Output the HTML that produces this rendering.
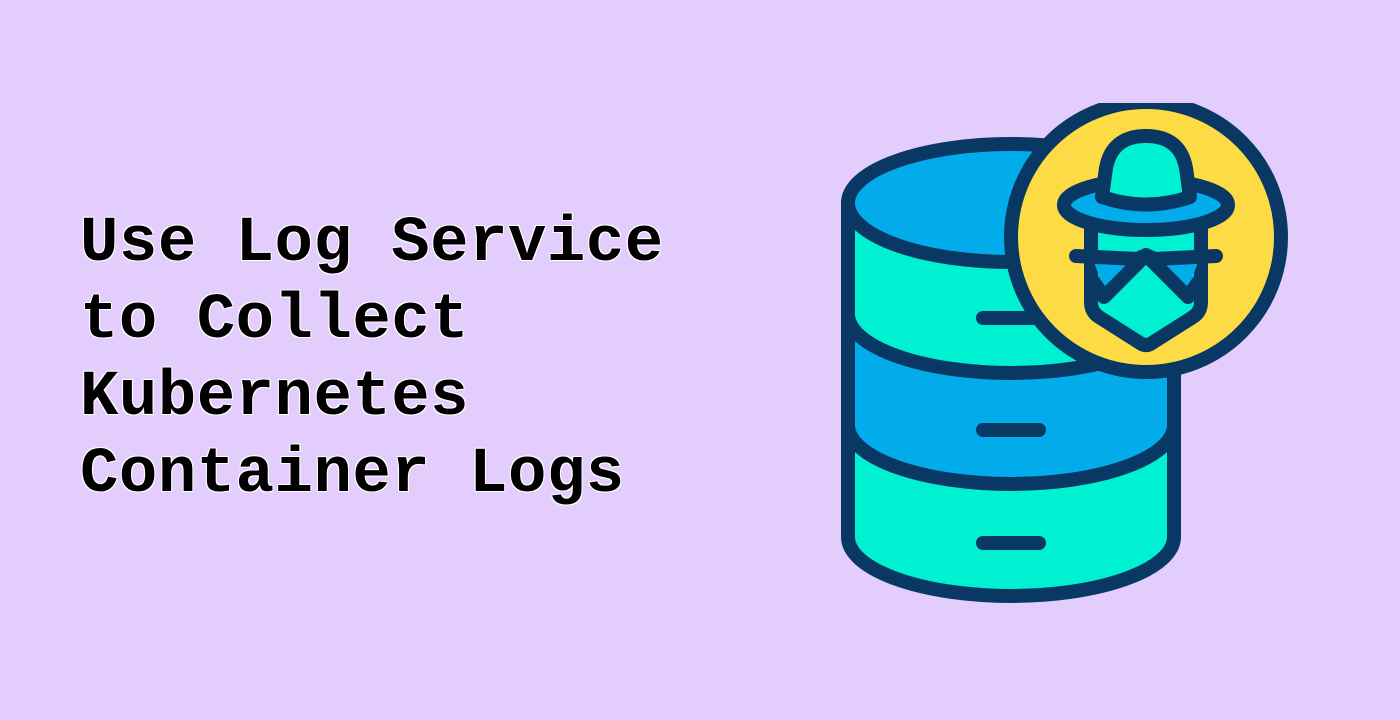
<!DOCTYPE html>
<html><head><style>
html,body{margin:0;padding:0;}
body{width:1400px;height:720px;background:#E2CDFD;position:relative;overflow:hidden;}
.t{position:absolute;left:80px;top:206px;font-family:"Liberation Mono",monospace;font-weight:bold;font-size:64px;line-height:77px;color:#000;text-shadow:1px 1px 0 #fff,-1px -1px 0 #fff,1px -1px 0 #fff,-1px 1px 0 #fff,0.6px 0 0 #000;letter-spacing:0.5px;}
svg{position:absolute;left:0;top:0;}
</style></head><body>
<div class="t">Use Log Service<br>to Collect<br>Kubernetes<br>Container Logs</div>
<svg width="1400" height="720" viewBox="0 0 1400 720">
<defs><clipPath id="c"><rect x="0" y="103" width="1400" height="620"/></clipPath></defs>
<g stroke="#0A3864" stroke-width="14" stroke-linejoin="round" stroke-linecap="round" clip-path="url(#c)">
 <path d="M848 425 L848 537 A163 59 0 0 0 1174 537 L1174 425 Z" fill="#00F0D2"/>
 <path d="M848 314 L848 425 A163 59 0 0 0 1174 425 L1174 314 Z" fill="#02ABE9"/>
 <path d="M848 203 L848 314 A163 59 0 0 0 1174 314 L1174 203 Z" fill="#00F0D2"/>
 <ellipse cx="1011" cy="203" rx="163" ry="59" fill="#02ABE9"/>
 <line x1="983" y1="318" x2="1039" y2="318"/>
 <line x1="983" y1="430" x2="1039" y2="430"/>
 <line x1="983" y1="543" x2="1039" y2="543"/>
 <circle cx="1146" cy="237" r="135" fill="#FDDB44"/>
 <path d="M1091 220 L1091 302 Q1091 312 1099 317 L1140 343 Q1146 347 1152 343 L1193 317 Q1201 312 1201 302 L1201 220 Z" fill="#00F0D2"/>
 <path d="M1094 262 L1128 263 L1104 290 Z" fill="#02ABE9" stroke="none"/>
 <path d="M1198 262 L1164 263 L1188 290 Z" fill="#02ABE9" stroke="none"/>
 <path d="M1076 256 L1138 259 Q1146 253 1154 259 L1216 256" fill="none"/>
 <path d="M1091 278 L1104 297 L1146 255 L1188 297 L1201 278" fill="none"/>
 <ellipse cx="1146" cy="205" rx="82" ry="25" fill="#02ABE9"/>
 <path d="M1102 197 L1106 168 Q1112 136 1146 136 Q1180 136 1186 168 L1190 197 Q1146 212 1102 197 Z" fill="#00F0D2"/>
</g>
</svg>
</body></html>
